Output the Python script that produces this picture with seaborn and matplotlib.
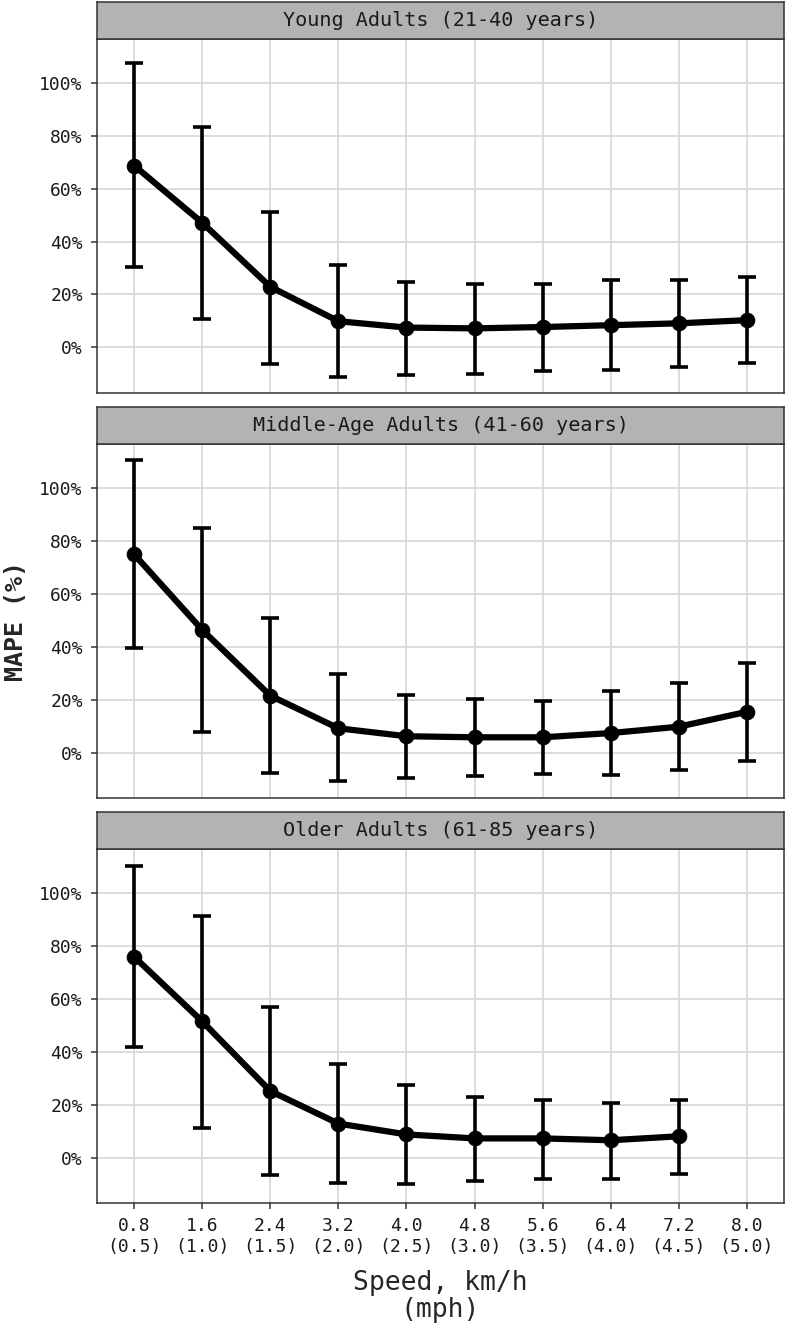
import numpy as np
import pandas as pd
import matplotlib.pyplot as plt
import seaborn as sns

# --- DATA ---
speed_labels = ["0.8\n(0.5)", "1.6\n(1.0)", "2.4\n(1.5)", "3.2\n(2.0)", "4.0\n(2.5)",
                "4.8\n(3.0)", "5.6\n(3.5)", "6.4\n(4.0)", "7.2\n(4.5)", "8.0\n(5.0)"]
groups = ["Young Adults (21-40 years)",
          "Middle-Age Adults (41-60 years)",
          "Older Adults (61-85 years)"]

# mean MAPE (%) and error bar ends (%)
young_mean = [68.7, 47.1, 22.9, 9.9, 7.5, 7.2, 7.7, 8.4, 9.1, 10.3]
young_lo = [30.2, 10.9, -6.4, -11.0, -10.4, -10.0, -8.8, -8.5, -7.4, -5.8]
young_hi = [107.5, 83.4, 51.3, 31.1, 24.7, 24.1, 24.1, 25.3, 25.3, 26.6]

middle_mean = [74.9, 46.4, 21.6, 9.3, 6.3, 5.9, 5.9, 7.5, 9.9, 15.5]
middle_lo = [39.5, 7.8, -7.6, -10.7, -9.4, -8.8, -8.0, -8.3, -6.3, -2.9]
middle_hi = [110.4, 84.9, 50.8, 29.6, 21.8, 20.3, 19.5, 23.2, 26.2, 33.8]

older_mean = [75.9, 51.5, 25.2, 12.9, 8.8, 7.3, 7.3, 6.6, 8.1, np.nan]
older_lo = [41.7, 11.4, -6.5, -9.7, -9.9, -8.8, -8.0, -8.0, -6.2, np.nan]
older_hi = [110.3, 91.2, 56.8, 35.3, 27.3, 22.9, 21.9, 20.8, 21.9, np.nan]

y_ticks = [0, 20, 40, 60, 80, 100]
y_tick_labels = ["0%", "20%", "40%", "60%", "80%", "100%"]

rows = []
for g, m, lo, hi in zip(groups,
                        [young_mean, middle_mean, older_mean],
                        [young_lo, middle_lo, older_lo],
                        [young_hi, middle_hi, older_hi]):
    for i in range(len(speed_labels)):
        rows.append({"group": g, "pos": i, "mape": m[i], "lo": lo[i], "hi": hi[i]})
df = pd.DataFrame(rows).dropna()

sns.set_theme(style="whitegrid")
plt.rcParams["font.family"] = ["DejaVu Sans Mono", "DejaVu Sans"]

W, H = 786, 1324
fig = plt.figure(figsize=(W / 100, H / 100), dpi=100)

left, right = 96.7, 784.3
panels = [(39.0, 392.7, 1.7), (444.0, 798.3, 406.7), (849.3, 1203.0, 812.0)]
border = "#333333"

for k, (g, (ptop, pbot, stop)) in enumerate(zip(groups, panels)):
    ax = fig.add_axes([left / W, 1 - pbot / H, (right - left) / W, (pbot - ptop) / H])
    sub = df[df["group"] == g]
    ax.errorbar(sub["pos"], sub["mape"],
                yerr=[sub["mape"] - sub["lo"], sub["hi"] - sub["mape"]],
                fmt="none", ecolor="black", elinewidth=2.6, capsize=6.5, capthick=2.6, zorder=3)
    sns.lineplot(data=sub, x="pos", y="mape", ax=ax, color="black", linewidth=4.5,
                 marker="o", markersize=10.5, markeredgecolor="black", zorder=4)
    ax.set_xlim(-0.55, len(speed_labels) - 0.45)
    ax.set_ylim(-17.1, 116.5)
    ax.set_yticks(y_ticks)
    ax.set_yticklabels(y_tick_labels, fontsize=13, color="#1a1a1a")
    ax.set_xticks(range(len(speed_labels)))
    ax.set_facecolor("white")
    ax.grid(True, color="#dadada", linewidth=1.3)
    for s in ax.spines.values():
        s.set_color(border)
        s.set_linewidth(1.1)
    ax.set_ylabel("")
    ax.tick_params(axis="y", length=4, width=1.1, color=border, left=True, pad=6)
    if k == len(groups) - 1:
        ax.set_xticklabels(speed_labels, fontsize=13, color="#1a1a1a", linespacing=1.25)
        ax.tick_params(axis="x", length=4, width=1.1, color=border, bottom=True, pad=6)
        ax.set_xlabel("Speed, km/h\n(mph)", fontsize=19, labelpad=10, linespacing=1.05)
    else:
        ax.set_xticklabels([])
        ax.tick_params(axis="x", length=0)
        ax.set_xlabel("")

    # facet strip
    sax = fig.add_axes([left / W, 1 - ptop / H, (right - left) / W, (ptop - stop) / H])
    sax.set_facecolor("#b3b3b3")
    sax.set_xticks([])
    sax.set_yticks([])
    sax.grid(False)
    for s in sax.spines.values():
        s.set_color(border)
        s.set_linewidth(1.1)
    sax.text(0.5, 0.5, g, ha="center", va="center", fontsize=14.5, color="#1a1a1a",
             transform=sax.transAxes)

fig.text(16 / W, 1 - 621 / H, "MAPE (%)", rotation=90, ha="center", va="center",
         fontsize=18, fontweight="bold")

fig.savefig("out.png", dpi=100)
